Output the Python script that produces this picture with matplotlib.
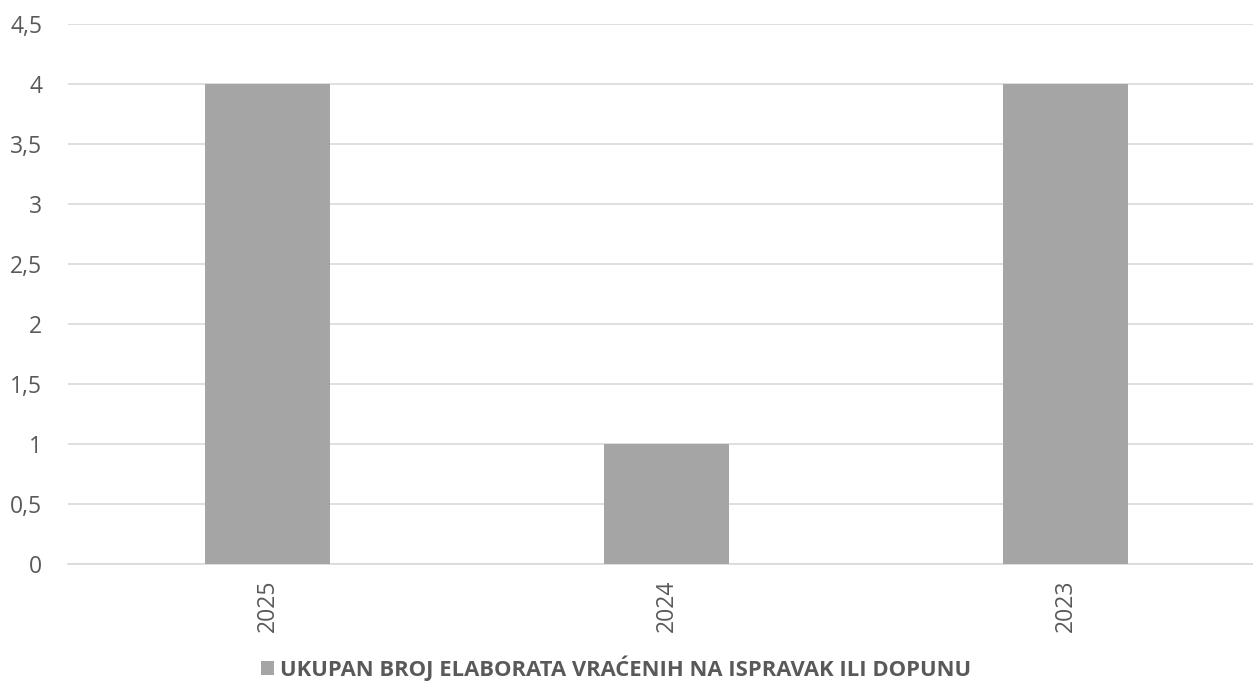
import matplotlib.pyplot as plt
from matplotlib.ticker import FuncFormatter

years = ["2025", "2024", "2023"]
counts = [4, 1, 4]
series_name = "UKUPAN BROJ ELABORATA VRAĆENIH NA ISPRAVAK ILI DOPUNU"

plt.rcParams['font.family'] = ['Open Sans', 'DejaVu Sans']

fig = plt.figure(figsize=(12.53, 6.84), dpi=100)
ax = fig.add_axes([68/1253, 120/684, 1 - 68/1253, 540/684])

x = range(len(years))
bars = ax.bar(x, counts, width=0.313, color="#A5A5A5", zorder=3, label=series_name)

ax.set_ylim(0, 4.5)
ax.set_xlim(-0.5, -0.5 + (1253 - 68) / 399)
ax.set_yticks([i * 0.5 for i in range(10)])
ax.yaxis.set_major_formatter(FuncFormatter(lambda v, p: ("%g" % v).replace(".", ",")))
ax.set_xticks(list(x))
ax.set_xticklabels(years, rotation=90)

ax.grid(axis="y", color="#D9D9D9", linewidth=1.2, zorder=0)
for s in ["top", "right", "left"]:
    ax.spines[s].set_visible(False)
ax.spines["bottom"].set_color("#D9D9D9")
ax.spines["bottom"].set_linewidth(1.2)
ax.tick_params(axis="both", length=0, labelsize=16.5, labelcolor="#595959")
ax.tick_params(axis="y", pad=18.5)
ax.tick_params(axis="x", pad=11)

leg = fig.legend(handles=[bars], labels=[series_name], loc="center",
                 bbox_to_anchor=(616/1253, 1 - 668/684), frameon=False,
                 handlelength=0.6, handleheight=0.6, handletextpad=0.3,
                 prop={"size": 15.8, "weight": "bold"})
for t in leg.get_texts():
    t.set_color("#595959")

fig.savefig("out.png", dpi=100)
